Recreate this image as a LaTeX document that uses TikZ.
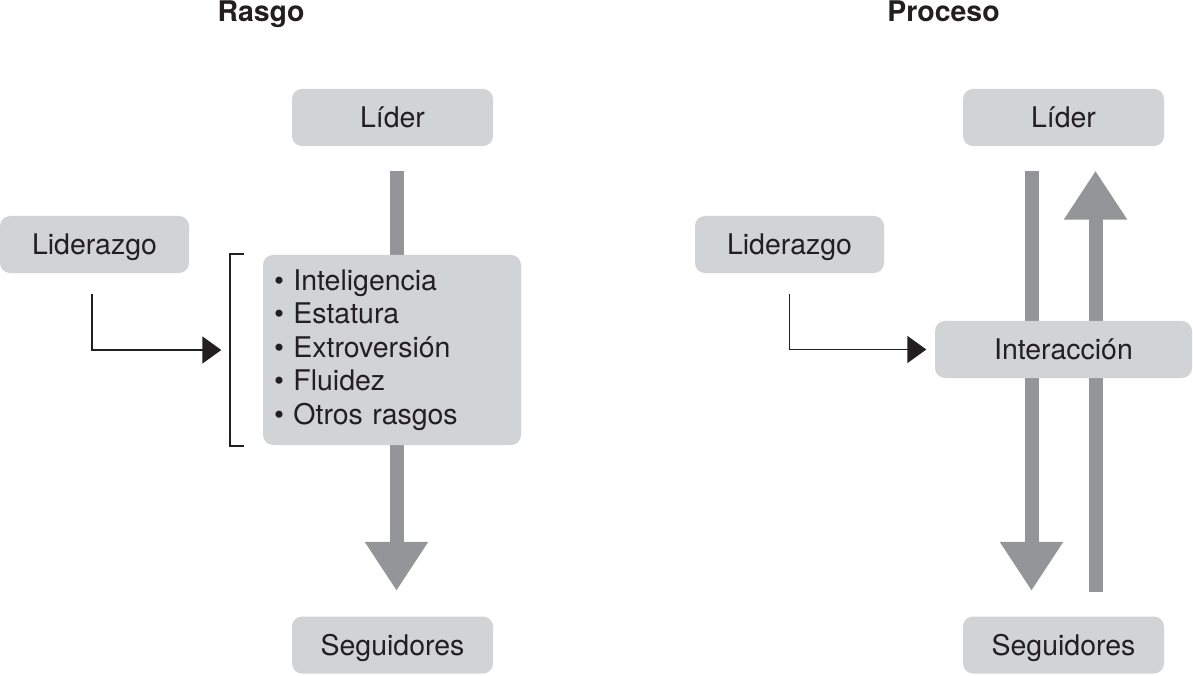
\documentclass[tikz,border=0pt]{standalone}
\usepackage{fontspec}
\setmainfont{TeX Gyre Heros}
\usepackage{tikz}
\usetikzlibrary{arrows.meta}
\usetikzlibrary{positioning}
\definecolor{boxgray}{HTML}{D1D3D4}
\definecolor{shaftgray}{HTML}{939598}
\definecolor{ink}{HTML}{231F20}
\tikzset{box/.style = {fill = boxgray, rounded corners = 0.1cm, inner sep = 0,
                       minimum height = 0.57cm, text height = 5.7pt, text depth = 0pt}}
\tikzset{title/.style = {anchor = base, font = \fontsize{8.1}{9.5}\selectfont\bfseries}}
\tikzset{shaft/.style = {draw = shaftgray, line width = 0.14cm,
                         -{Triangle[length = 0.49cm, width = 0.6cm]}}}
\tikzset{link/.style = {draw = ink, line width = 0.5pt,
                        -{Triangle[length = 0.19cm, width = 0.27cm]}}}
\tikzset{brak/.style = {draw = ink, line width = 0.5pt}}

\begin{document}
\begin{tikzpicture}[every node/.style = {text = ink, font = \fontsize{8.1}{9.5}\selectfont}]
      \useasboundingbox (0, 0) rectangle (11.93, 6.75);

      \node [title] (rasgo) at (2.61, 6.53) {Rasgo};
      \node [title] (proceso) at (9.435, 6.53) {Proceso};

      % rasgo
      \node [box, minimum width = 2.01cm] (liderA) at (3.925, 5.575) {Líder};
      \node [box, minimum width = 1.89cm] (liderazgoA) at (0.945, 4.305) {Liderazgo};
      \node [box, minimum width = 2.01cm] (seguidoresA) at (3.925, 0.30) {Seguidores};
      \draw [shaft, shorten < = 0.24cm, shorten > = 0.25cm]
            ([xshift = 0.04cm] liderA.south) -- ([xshift = 0.04cm] seguidoresA.north);
      \node [fill = boxgray, rounded corners = 0.1cm, minimum width = 2.58cm, minimum height = 1.9cm,
             inner xsep = 0.11cm, text width = 2.36cm, align = left] (traits) at (3.92, 3.25)
            {• Inteligencia\\ • Estatura\\ • Extroversión\\ • Fluidez\\ • Otros rasgos};
      \draw [brak] ([xshift = -0.18cm] traits.north west) -| ([xshift = -0.32cm] traits.west)
            |- ([xshift = -0.18cm] traits.south west);
      \draw [link] ([xshift = -0.025cm, yshift = -0.2cm] liderazgoA.south)
            |- ([xshift = -0.41cm] traits.west);

      % proceso
      \node [box, minimum width = 2.01cm] (liderB) at (10.635, 5.575) {Líder};
      \node [box, minimum width = 1.89cm] (liderazgoB) at (7.895, 4.305) {Liderazgo};
      \node [box, minimum width = 2.01cm] (seguidoresB) at (10.635, 0.30) {Seguidores};
      \draw [shaft, shorten < = 0.24cm, shorten > = 0.25cm]
            ([xshift = -0.32cm] liderB.south) -- ([xshift = -0.32cm] seguidoresB.north);
      \draw [shaft, shorten < = 0.24cm, shorten > = 0.24cm]
            ([xshift = 0.32cm] seguidoresB.north) -- ([xshift = 0.32cm] liderB.south);
      \node [box, minimum width = 2.57cm] (interB) at (10.635, 3.255) {Interacción};
      \draw [link] ([yshift = -0.2cm] liderazgoB.south) |- ([xshift = -0.08cm] interB.west);
\end{tikzpicture}
\end{document}
